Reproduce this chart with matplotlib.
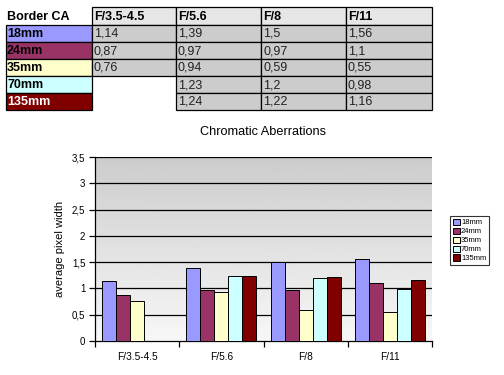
import numpy as np
import matplotlib.pyplot as plt
from matplotlib.patches import Rectangle

plt.rcParams['font.family'] = ['Liberation Sans', 'DejaVu Sans']

# data
apertures = ['F/3.5-4.5', 'F/5.6', 'F/8', 'F/11']
focals = ['18mm', '24mm', '35mm', '70mm', '135mm']
ca_18 = [1.14, 1.39, 1.5, 1.56]
ca_24 = [0.87, 0.97, 0.97, 1.1]
ca_35 = [0.76, 0.94, 0.59, 0.55]
ca_70 = [np.nan, 1.23, 1.2, 0.98]
ca_135 = [np.nan, 1.24, 1.22, 1.16]
series = [ca_18, ca_24, ca_35, ca_70, ca_135]
colors = ['#9999ff', '#993366', '#ffffcc', '#ccffff', '#800000']
label_text = ['#000000', '#000000', '#000000', '#000000', '#ffffff']

def fmt(v):
    return f'{v:g}'.replace('.', ',')

fig = plt.figure(figsize=(5.04, 3.75), dpi=100)

# ---- table at top, drawn in pixel coords
tab = fig.add_axes([0, 0, 1, 1])
tab.set_xlim(0, 504)
tab.set_ylim(375, 0)
tab.axis('off')
col_x = [6, 92, 176, 261, 346, 432]
row_y = [7, 25, 42, 59, 76, 93, 110]

tab.text(col_x[0] + 1, (row_y[0] + row_y[1]) / 2 + 0.5, 'Border CA', fontsize=9,
         fontweight='bold', va='center', ha='left')
for j, ap in enumerate(apertures):
    x0, x1 = col_x[j + 1], col_x[j + 2]
    tab.add_patch(Rectangle((x0, row_y[0]), x1 - x0, row_y[1] - row_y[0],
                            fc='#e6e6e6', ec='black', lw=0.9))
    tab.text(x0 + 2, (row_y[0] + row_y[1]) / 2 + 0.5, ap, fontsize=9,
             fontweight='bold', va='center', ha='left')
for i, f in enumerate(focals):
    y0, y1 = row_y[i + 1], row_y[i + 2]
    tab.add_patch(Rectangle((col_x[0], y0), col_x[1] - col_x[0], y1 - y0,
                            fc=colors[i], ec='black', lw=0.9))
    tab.text(col_x[0] + 1, (y0 + y1) / 2 + 0.5, f, fontsize=9, fontweight='bold',
             color=label_text[i], va='center', ha='left')
    for j in range(len(apertures)):
        v = series[i][j]
        if np.isnan(v):
            continue
        x0, x1 = col_x[j + 1], col_x[j + 2]
        tab.add_patch(Rectangle((x0, y0), x1 - x0, y1 - y0,
                                fc='#cccccc', ec='black', lw=0.9))
        tab.text(x0 + 2, (y0 + y1) / 2 + 0.5, fmt(v), fontsize=9,
                 va='center', ha='left', color='#222222')

# ---- bar chart
ax = fig.add_axes([95 / 504, 34 / 375, 337 / 504, 184 / 375])
ymax = 3.5
grad = np.linspace(0.97, 0.80, 256).reshape(-1, 1)
ax.imshow(grad, extent=[0, 4, 0, ymax], origin='lower', aspect='auto',
          cmap='gray', vmin=0, vmax=1, zorder=0)

x = np.arange(len(apertures)) + 0.5
w = 1 / 6
for i, s in enumerate(series):
    ax.bar(x + (i - 2) * w, s, width=w, color=colors[i], edgecolor='black',
           linewidth=0.7, label=focals[i], zorder=3)

ax.set_xlim(0, 4)
ax.set_ylim(0, ymax)
yt = np.arange(0, 3.51, 0.5)
ax.set_yticks(yt)
ax.set_yticklabels([fmt(v) for v in yt], fontsize=7)
for v in yt[1:]:
    ax.axhline(v, color='black', lw=0.9, zorder=1)
ax.set_xticks(range(5))
ax.set_xticklabels([])
ax.set_xticks(x, minor=True)
ax.set_xticklabels(apertures, minor=True, fontsize=7.3)
ax.tick_params(axis='x', which='minor', length=0, pad=8)
ax.tick_params(axis='x', which='major', length=4, direction='out', width=0.9)
ax.tick_params(axis='y', length=4, direction='out', width=0.9, pad=3)
for side in ['top', 'right']:
    ax.spines[side].set_visible(False)
ax.spines['left'].set_linewidth(0.9)
ax.spines['bottom'].set_linewidth(0.9)
ax.set_ylabel('average pixel width', fontsize=8, labelpad=5)
ax.set_title('Chromatic Aberrations', fontsize=9.2, pad=16)

leg = ax.legend(loc='upper left', bbox_to_anchor=(450 / 504, 1 - 216 / 375),
                bbox_transform=fig.transFigure, fontsize=5.5, frameon=True,
                fancybox=False, handlelength=0.9, handleheight=0.9,
                handletextpad=0.2, labelspacing=0.15, borderpad=0.35,
                borderaxespad=0)
leg.get_frame().set_edgecolor('black')
leg.get_frame().set_linewidth(0.8)

fig.savefig('out.png', dpi=100)
